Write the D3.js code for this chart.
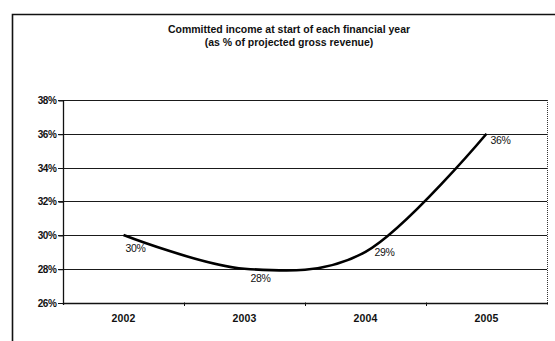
<!DOCTYPE html>
<html>
  <head>
    <title>Committed income</title>
    <script src="https://d3js.org/d3.v7.min.js"></script>
    <style>
      body { margin: 0; background: #fff; }
      text { font-family: Arial, "Liberation Sans", sans-serif; fill: #111; }
      .title { font-size: 10.5px; font-weight: bold; letter-spacing: 0px; }
      .ylab { font-size: 10px; font-weight: bold; letter-spacing: -0.4px; }
      .xlab { font-size: 10.5px; font-weight: bold; letter-spacing: 0.1px; }
      .dlab { font-size: 10.5px; letter-spacing: -0.4px; }
    </style>
  </head>
  <body>
    <svg width="555" height="341"></svg>
    <script>
      var years = ["2002", "2003", "2004", "2005"];
      var values = [30, 28, 29, 36];
      var yTicks = [26, 28, 30, 32, 34, 36, 38];
      var titleLines = ["Committed income at start of each financial year",
                        "(as % of projected gross revenue)"];
      // label nudge from each point, in px
      var labelDx = [12, 16, 19, 14];
      var labelDy = [13, 10, 0, 7];

      var svg = d3.select("svg");
      var plotL = 63, plotR = 547, plotT = 100, plotB = 302.5;

      var x = d3.scaleBand().domain(years).range([plotL, plotR]);
      var y = d3.scaleLinear().domain([26, 38]).range([plotB, plotT]);

      // outer chart frame (runs off right and bottom edges)
      svg.append("path")
        .attr("d", "M12.5,341 V14.5 H555")
        .attr("fill", "none")
        .attr("stroke", "#111")
        .attr("stroke-width", 1.6);

      svg.selectAll("text.title")
        .data(titleLines)
        .enter()
        .append("text")
          .attr("class", "title")
          .attr("x", 289)
          .attr("y", (d, i) => 33 + i * 12.5)
          .attr("text-anchor", "middle")
          .text(d => d);

      // gridlines
      svg.selectAll("line.grid")
        .data(yTicks)
        .enter()
        .append("line")
          .attr("class", "grid")
          .attr("x1", plotL - 5)
          .attr("x2", plotR)
          .attr("y1", d => Math.round(y(d)) + 0.5)
          .attr("y2", d => Math.round(y(d)) + 0.5)
          .attr("stroke", "#1a1a1a")
          .attr("stroke-width", 1);

      // right edge of plot, dotted
      svg.append("line")
        .attr("x1", plotR + 0.5).attr("x2", plotR + 0.5)
        .attr("y1", plotT).attr("y2", plotB + 2)
        .attr("stroke", "#333")
        .attr("stroke-dasharray", "1,1");

      // y axis
      var yAxis = d3.axisLeft(y)
        .tickValues(yTicks)
        .tickSize(5)
        .tickFormat(d => d + "%");
      var gy = svg.append("g")
        .attr("transform", `translate(${plotL + 0.5},0.5)`)
        .call(yAxis);
      gy.attr("font-family", null).attr("font-size", null);
      gy.select(".domain")
        .attr("stroke", "#111")
        .attr("stroke-width", 1.3)
        .attr("d", `M0,${plotT - 0.5}V${plotB + 2}`);
      gy.selectAll(".tick line").attr("stroke", "#111");
      gy.selectAll(".tick text")
        .attr("class", "ylab")
        .attr("x", -7);

      // x axis: tick marks at category boundaries, labels at centres
      var xb = d3.scalePoint().domain(d3.range(years.length + 1)).range([plotL, plotR]);
      svg.selectAll("line.xtick")
        .data(d3.range(1, years.length))
        .enter()
        .append("line")
          .attr("x1", d => Math.round(xb(d)) + 0.5)
          .attr("x2", d => Math.round(xb(d)) + 0.5)
          .attr("y1", plotB)
          .attr("y2", plotB + 3.5)
          .attr("stroke", "#111");
      svg.append("line")
        .attr("x1", plotL).attr("x2", plotR + 1)
        .attr("y1", Math.round(plotB) + 0.5).attr("y2", Math.round(plotB) + 0.5)
        .attr("stroke", "#111").attr("stroke-width", 1.3);

      svg.selectAll("text.xlab")
        .data(years)
        .enter()
        .append("text")
          .attr("class", "xlab")
          .attr("x", d => x(d) + x.bandwidth() / 2)
          .attr("y", 322)
          .attr("text-anchor", "middle")
          .text(d => d);

      // smoothed line
      var line = d3.line()
        .x((d, i) => x(years[i]) + x.bandwidth() / 2)
        .y(d => y(d))
        .curve(d3.curveCardinal.tension(0));
      svg.append("path")
        .datum(values)
        .attr("d", line)
        .attr("fill", "none")
        .attr("stroke", "#000")
        .attr("stroke-width", 2.6);

      svg.selectAll("text.dlab")
        .data(values)
        .enter()
        .append("text")
          .attr("class", "dlab")
          .attr("x", (d, i) => x(years[i]) + x.bandwidth() / 2 + labelDx[i])
          .attr("y", (d, i) => y(d) + labelDy[i])
          .attr("dy", "0.35em")
          .attr("text-anchor", "middle")
          .text(d => d + "%");
    </script>
  </body>
</html>
